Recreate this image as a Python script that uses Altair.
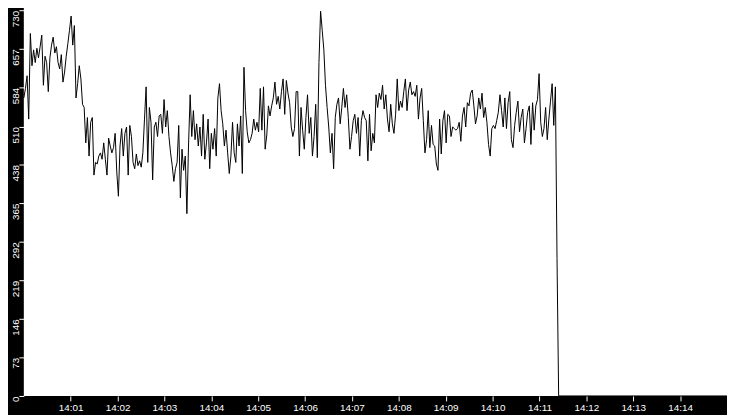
import altair as alt
import pandas as pd

# Values, one sample roughly every 2.087 s from 14:00:00
seg0 = [564, 582, 606, 524, 686, 625, 655, 631, 658, 640, 661, 683, 588, 643, 631, 576, 640, 664, 679, 649, 661,
        631, 619, 646, 594, 613, 643, 667, 692, 719, 664, 701, 564, 591, 625, 600, 552, 546, 479, 527, 454, 518]
seg1 = [527, 418, 442, 439, 454, 460, 448, 479, 448, 418, 488, 473, 460, 470, 497, 424, 378, 473, 506, 454, 497,
        509, 418, 512, 491, 442, 430, 458, 436, 445, 433, 460, 524, 585, 442, 546, 518, 409, 509, 518, 491, 530]
seg2 = [533, 497, 561, 509, 540, 491, 460, 436, 406, 430, 442, 512, 375, 467, 427, 454, 345, 473, 570, 491, 540,
        485, 515, 473, 509, 454, 533, 448, 479, 524, 430, 497, 467, 506, 454, 564, 591, 540, 515, 473, 503, 460]
seg3 = [421, 454, 518, 460, 442, 515, 473, 530, 421, 622, 540, 500, 479, 485, 497, 524, 503, 518, 500, 582, 503,
        585, 467, 494, 549, 530, 549, 564, 594, 552, 567, 543, 576, 600, 533, 597, 573, 555, 509, 491, 506, 576]
seg4 = [576, 454, 546, 503, 467, 527, 570, 497, 527, 454, 491, 552, 451, 631, 728, 692, 655, 588, 546, 509, 460,
        497, 430, 527, 552, 564, 515, 546, 582, 546, 570, 527, 467, 491, 521, 533, 497, 527, 454, 521, 540, 527]
seg5 = [521, 445, 533, 464, 497, 479, 570, 546, 573, 561, 588, 543, 570, 524, 500, 552, 515, 497, 533, 600, 540,
        558, 546, 576, 600, 540, 579, 594, 570, 576, 567, 588, 524, 564, 582, 521, 460, 485, 540, 470, 512, 476]
seg6 = [473, 439, 427, 524, 458, 521, 540, 479, 533, 530, 491, 509, 506, 503, 506, 518, 482, 530, 546, 509, 555,
        549, 573, 579, 549, 515, 530, 564, 543, 573, 527, 546, 518, 476, 454, 506, 512, 506, 521, 537, 570, 540]
seg7 = [509, 564, 506, 555, 576, 485, 470, 512, 537, 558, 500, 527, 543, 479, 506, 537, 549, 476, 555, 503, 549,
        561, 610, 518, 491, 506, 546, 485, 524, 558, 591, 512, 585, 260, 0]

y_ticks = [0, 73, 146, 219, 292, 365, 438, 510, 584, 657, 730]
x_tick_minutes = list(range(1, 15))
window = ["2024-01-01T14:00:00", "2024-01-01T14:15:00"]
y_range = [0, 730]

values = seg0 + seg1 + seg2 + seg3 + seg4 + seg5 + seg6 + seg7
base = pd.Timestamp(window[0])
step = pd.Timedelta(milliseconds=2087)
times = [(base + step * i).strftime("%Y-%m-%dT%H:%M:%S.%f")[:-3] for i in range(len(values))]
# signal stays at zero until the end of the window
times.append(window[1])
values.append(0)

df = pd.DataFrame({"t": times, "v": values})

# black axis bands (left and bottom), placed just outside the plotting window
bands = pd.DataFrame({
    "t0": ["2024-01-01T13:59:00", "2024-01-01T13:59:00"],
    "t1": ["2024-01-01T14:16:00", "2024-01-01T14:00:00"],
    "v0": [-80, -80],
    "v1": [0, 800],
})

def dt(m):
    return alt.DateTime(year=2024, month=1, date=1, hours=14, minutes=m)

x_scale = alt.Scale(domain=[dt(0), dt(15)])
y_scale = alt.Scale(domain=y_range, nice=False, zero=True)
x_axis = alt.Axis(title=None, values=[dt(m) for m in x_tick_minutes], format="%H:%M",
                  grid=False, domain=False, ticks=True, tickColor="white", tickSize=5,
                  labelColor="white", labelFont="Liberation Sans", labelFontSize=10,
                  labelPadding=2, labelFlush=False, labelOverlap=False, zindex=1)
y_axis = alt.Axis(title=None, values=y_ticks, format="d",
                  grid=False, domain=False, ticks=True, tickColor="white", tickSize=5,
                  labelColor="white", labelFont="Liberation Sans", labelFontSize=10,
                  labelAngle=270, labelAlign="right", labelBaseline="alphabetic",
                  labelPadding=0, labelFlush=False, labelOverlap=False, labelBound=False, zindex=1)

band_layer = alt.Chart(bands).mark_rect(color="black").encode(
    x=alt.X("t0:T", scale=x_scale, axis=x_axis),
    x2="t1:T",
    y=alt.Y("v0:Q", scale=y_scale, axis=y_axis),
    y2="v1:Q",
)

line = alt.Chart(df).mark_line(color="black", strokeWidth=1).encode(
    x=alt.X("t:T", scale=x_scale, axis=x_axis),
    y=alt.Y("v:Q", scale=y_scale, axis=y_axis),
)

chart = alt.layer(band_layer, line).properties(
    width=711,
    height=390,
    background="white",
    padding={"left": 16, "top": 0, "right": 0, "bottom": 17},
    autosize=alt.AutoSizeParams(type="none"),
).configure_view(strokeWidth=0)

chart.save("out.html", embed_options={"renderer": "svg", "actions": False})
